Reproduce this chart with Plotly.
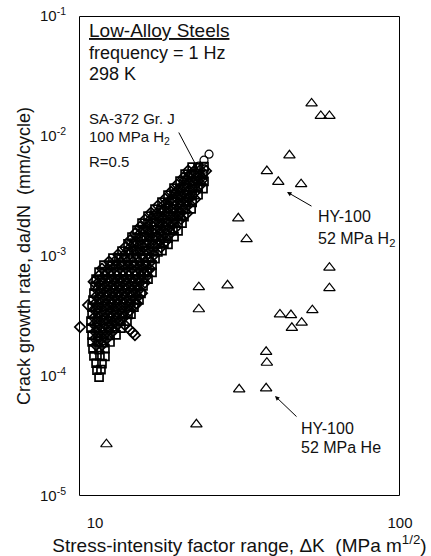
import plotly.graph_objects as go

# ---------------- data ----------------
# SA-372 Gr. J, 100 MPa H2, R=0.5 : squares
sq_dk = [
    20.82, 21.77, 22.77,
    19.74, 20.66, 21.61, 22.60,
    19.00, 19.89, 20.82, 21.77, 22.77,
    18.16, 19.00, 19.89, 20.82, 21.77, 22.60,
    17.35, 18.16, 19.00, 19.89, 20.82, 21.77,
    16.58, 17.35, 18.16, 19.00, 19.89, 20.82,
    15.73, 16.45, 17.22, 18.02, 18.86, 19.74, 20.66,
    14.92, 15.61, 16.33, 17.09, 17.89, 18.72, 19.58,
    14.26, 14.92, 15.61, 16.33, 17.09, 17.89, 18.72, 19.29,
    13.73, 14.37, 15.03, 15.73, 16.45, 17.22, 18.02, 18.72,
    13.22, 13.84, 14.47, 15.14, 15.84, 16.58, 17.35, 18.16,
    12.83, 13.42, 14.04, 14.70, 15.38, 16.08, 16.83, 17.35,
    12.26, 12.83, 13.42, 14.04, 14.70, 15.38, 16.08, 16.58,
    11.45, 11.98, 12.54, 13.12, 13.73, 14.37, 15.03, 15.73,
    10.70, 11.20, 11.72, 12.26, 12.83, 13.42, 14.04, 14.70, 15.38,
    10.31, 10.78, 11.28, 11.81, 12.35, 12.92, 13.52, 14.15, 14.81, 15.38,
    10.08, 10.54, 11.03, 11.54, 12.07, 12.64, 13.22, 13.84, 14.47, 14.92,
    10.00, 10.46, 10.95, 11.45, 11.98, 12.54, 13.12, 13.73, 14.37,
    9.92, 10.38, 10.87, 11.37, 11.90, 12.45, 13.02, 13.62, 14.15,
    9.85, 10.31, 10.78, 11.28, 11.81, 12.35, 12.92, 13.52, 13.94,
    9.78, 10.23, 10.70, 11.20, 11.72, 12.26, 12.83, 13.42,
    9.78, 10.23, 10.70, 11.20, 11.72, 12.26, 12.83, 13.12,
    9.70, 10.15, 10.62, 11.11, 11.63, 12.16, 12.73,
    9.70, 10.15, 10.62, 11.11, 11.63, 12.16,
    9.78, 10.23, 10.70, 11.20, 11.72,
    9.78, 10.23, 10.70, 11.20,
    9.85, 10.31, 10.78,
    9.92, 10.38, 10.78,
    10.08, 10.54,
    10.15, 10.46,
    10.31,
]
sq_rate = [
    5.50e-3, 5.42e-3, 5.55e-3,
    4.81e-3, 4.75e-3, 4.88e-3, 4.79e-3,
    4.20e-3, 4.26e-3, 4.15e-3, 4.22e-3, 4.18e-3,
    3.68e-3, 3.62e-3, 3.72e-3, 3.66e-3, 3.70e-3, 3.64e-3,
    3.21e-3, 3.26e-3, 3.17e-3, 3.23e-3, 3.19e-3, 3.24e-3,
    2.81e-3, 2.77e-3, 2.85e-3, 2.79e-3, 2.83e-3, 2.80e-3,
    2.46e-3, 2.42e-3, 2.50e-3, 2.44e-3, 2.48e-3, 2.45e-3, 2.47e-3,
    2.15e-3, 2.18e-3, 2.12e-3, 2.16e-3, 2.14e-3, 2.17e-3, 2.13e-3,
    1.88e-3, 1.85e-3, 1.91e-3, 1.87e-3, 1.89e-3, 1.86e-3, 1.90e-3, 1.88e-3,
    1.64e-3, 1.66e-3, 1.62e-3, 1.65e-3, 1.63e-3, 1.67e-3, 1.64e-3, 1.62e-3,
    1.44e-3, 1.42e-3, 1.46e-3, 1.43e-3, 1.45e-3, 1.44e-3, 1.41e-3, 1.45e-3,
    1.26e-3, 1.28e-3, 1.24e-3, 1.27e-3, 1.25e-3, 1.26e-3, 1.28e-3, 1.25e-3,
    1.10e-3, 1.08e-3, 1.12e-3, 1.09e-3, 1.11e-3, 1.10e-3, 1.08e-3, 1.11e-3,
    9.6e-4, 9.7e-4, 9.5e-4, 9.65e-4, 9.55e-4, 9.6e-4, 9.7e-4, 9.5e-4,
    8.4e-4, 8.3e-4, 8.5e-4, 8.35e-4, 8.45e-4, 8.4e-4, 8.3e-4, 8.45e-4, 8.4e-4,
    7.35e-4, 7.4e-4, 7.3e-4, 7.38e-4, 7.32e-4, 7.36e-4, 7.4e-4, 7.3e-4, 7.35e-4, 7.3e-4,
    6.42e-4, 6.36e-4, 6.48e-4, 6.4e-4, 6.45e-4, 6.38e-4, 6.44e-4, 6.4e-4, 6.46e-4, 6.4e-4,
    5.62e-4, 5.66e-4, 5.58e-4, 5.63e-4, 5.6e-4, 5.65e-4, 5.61e-4, 5.58e-4, 5.64e-4,
    4.91e-4, 4.87e-4, 4.95e-4, 4.9e-4, 4.93e-4, 4.89e-4, 4.92e-4, 4.9e-4, 4.88e-4,
    4.30e-4, 4.33e-4, 4.27e-4, 4.31e-4, 4.29e-4, 4.32e-4, 4.28e-4, 4.3e-4, 4.31e-4,
    3.75e-4, 3.72e-4, 3.78e-4, 3.74e-4, 3.76e-4, 3.73e-4, 3.77e-4, 3.75e-4,
    3.28e-4, 3.31e-4, 3.25e-4, 3.29e-4, 3.27e-4, 3.3e-4, 3.26e-4, 3.28e-4,
    2.87e-4, 2.84e-4, 2.9e-4, 2.86e-4, 2.88e-4, 2.85e-4, 2.87e-4,
    2.51e-4, 2.53e-4, 2.49e-4, 2.52e-4, 2.5e-4, 2.51e-4,
    2.19e-4, 2.17e-4, 2.21e-4, 2.18e-4, 2.2e-4,
    1.92e-4, 1.94e-4, 1.9e-4, 1.92e-4,
    1.68e-4, 1.66e-4, 1.69e-4,
    1.47e-4, 1.48e-4, 1.46e-4,
    1.28e-4, 1.27e-4,
    1.12e-4, 1.13e-4,
    9.8e-5,
]

# diamonds
dia_dk = [
    20.20, 21.13, 22.10, 23.12,
    19.45, 20.35, 21.29, 22.27,
    18.58, 19.45, 20.35, 21.29, 22.27,
    17.75, 18.58, 19.45, 20.35, 21.29,
    16.96, 17.75, 18.58, 19.45, 20.35, 21.29,
    16.08, 16.83, 17.62, 18.44, 19.29, 20.20,
    15.26, 15.97, 16.71, 17.48, 18.30, 19.14, 20.03,
    14.58, 15.26, 15.97, 16.71, 17.48, 18.30, 19.14,
    14.04, 14.70, 15.38, 16.08, 16.83, 17.62, 18.44,
    13.52, 14.15, 14.81, 15.49, 16.21, 16.96, 17.75,
    13.02, 13.62, 14.26, 14.92, 15.61, 16.33, 17.09,
    12.54, 13.12, 13.73, 14.37, 15.03, 15.73, 16.45,
    11.90, 12.45, 13.02, 13.62, 14.26, 14.92, 15.61,
    11.11, 11.63, 12.16, 12.73, 13.32, 13.94, 14.58, 15.26,
    10.54, 11.03, 11.54, 12.07, 12.64, 13.22, 13.84, 14.47, 15.14,
    10.31, 10.78, 11.28, 11.81, 12.35, 12.92, 13.52, 14.15, 14.81,
    10.23, 10.70, 11.20, 11.72, 12.26, 12.83, 13.42, 14.04, 14.58,
    10.15, 10.62, 11.11, 11.63, 12.16, 12.73, 13.32, 13.94,
    10.08, 10.54, 11.03, 11.54, 12.07, 12.64, 13.22, 13.84,
    10.00, 10.46, 10.95, 11.45, 11.98, 12.54, 13.12, 13.62,
    10.00, 10.46, 10.95, 11.45, 11.98, 12.54, 13.02,
    9.92, 10.38, 10.87, 11.37, 11.90, 12.45,
    9.92, 10.38, 10.87, 11.37, 11.90,
    10.00, 10.46, 10.95, 11.45,
    10.00, 10.46, 10.95,
    10.08, 10.54,
    8.93, 9.49, 9.90, 13.02, 13.52, 12.54, 13.30,
    14.58, 14.26, 13.73, 20.20, 22.40, 14.81,
]
dia_rate = [
    5.15e-3, 5.10e-3, 5.20e-3, 5.12e-3,
    4.49e-3, 4.53e-3, 4.45e-3, 4.50e-3,
    3.94e-3, 3.90e-3, 3.98e-3, 3.92e-3, 3.96e-3,
    3.43e-3, 3.46e-3, 3.40e-3, 3.44e-3, 3.41e-3,
    3.00e-3, 2.97e-3, 3.03e-3, 2.99e-3, 3.01e-3, 2.98e-3,
    2.63e-3, 2.66e-3, 2.60e-3, 2.64e-3, 2.62e-3, 2.65e-3,
    2.30e-3, 2.28e-3, 2.32e-3, 2.29e-3, 2.31e-3, 2.30e-3, 2.27e-3,
    2.01e-3, 2.03e-3, 1.99e-3, 2.02e-3, 2.00e-3, 2.01e-3, 2.03e-3,
    1.75e-3, 1.73e-3, 1.77e-3, 1.74e-3, 1.76e-3, 1.75e-3, 1.73e-3,
    1.54e-3, 1.56e-3, 1.52e-3, 1.55e-3, 1.53e-3, 1.54e-3, 1.56e-3,
    1.35e-3, 1.33e-3, 1.37e-3, 1.34e-3, 1.36e-3, 1.35e-3, 1.33e-3,
    1.18e-3, 1.19e-3, 1.17e-3, 1.18e-3, 1.16e-3, 1.19e-3, 1.18e-3,
    1.03e-3, 1.02e-3, 1.04e-3, 1.03e-3, 1.01e-3, 1.04e-3, 1.02e-3,
    8.99e-4, 9.05e-4, 8.9e-4, 9.0e-4, 8.95e-4, 9.02e-4, 8.92e-4, 9.0e-4,
    7.86e-4, 7.8e-4, 7.9e-4, 7.84e-4, 7.88e-4, 7.82e-4, 7.87e-4, 7.85e-4, 7.8e-4,
    6.87e-4, 6.92e-4, 6.83e-4, 6.89e-4, 6.85e-4, 6.9e-4, 6.86e-4, 6.88e-4, 6.84e-4,
    6.01e-4, 5.97e-4, 6.05e-4, 6.0e-4, 6.03e-4, 5.98e-4, 6.02e-4, 6.0e-4, 5.99e-4,
    5.25e-4, 5.28e-4, 5.22e-4, 5.26e-4, 5.24e-4, 5.27e-4, 5.23e-4, 5.25e-4,
    4.60e-4, 4.57e-4, 4.63e-4, 4.59e-4, 4.61e-4, 4.58e-4, 4.62e-4, 4.6e-4,
    4.01e-4, 4.04e-4, 3.98e-4, 4.02e-4, 4.0e-4, 4.03e-4, 3.99e-4, 4.01e-4,
    3.51e-4, 3.48e-4, 3.54e-4, 3.5e-4, 3.52e-4, 3.49e-4, 3.51e-4,
    3.07e-4, 3.1e-4, 3.04e-4, 3.08e-4, 3.06e-4, 3.09e-4,
    2.69e-4, 2.67e-4, 2.71e-4, 2.68e-4, 2.7e-4,
    2.34e-4, 2.36e-4, 2.32e-4, 2.35e-4,
    2.05e-4, 2.03e-4, 2.06e-4,
    1.80e-4, 1.81e-4,
    2.56e-4, 3.90e-4, 6.1e-4, 2.42e-4, 2.19e-4, 2.65e-4, 2.3e-4,
    7.2e-4, 4.9e-4, 4.0e-4, 3.03e-3, 4.28e-3, 7.5e-4,
]

# circles (upper end of the SA-372 band)
circ_dk = [23.65, 22.77, 21.93, 21.13, 20.20, 19.45, 22.90, 18.30]
circ_rate = [7.06e-3, 6.29e-3, 5.60e-3, 5.09e-3, 4.63e-3, 4.12e-3, 5.30e-3, 3.40e-3]

# HY-100 (triangles)
hy_dk = [51.3, 55.0, 58.7, 43.4, 36.6, 39.9, 47.4, 29.5, 31.4, 58.7, 58.7, 27.2,
         21.9, 21.9, 40.4, 43.9, 51.6, 47.6, 44.2, 36.4, 36.6, 29.7, 36.4, 21.5, 10.9]
hy_rate = [1.87e-2, 1.47e-2, 1.47e-2, 6.9e-3, 5.1e-3, 4.15e-3, 3.97e-3, 2.06e-3,
           1.38e-3, 8.0e-4, 5.4e-4, 5.7e-4, 5.5e-4, 3.6e-4, 3.26e-4, 3.22e-4,
           3.54e-4, 2.78e-4, 2.52e-4, 1.59e-4, 1.29e-4, 7.75e-5, 7.9e-5, 3.96e-5, 2.7e-5]

y_tick_vals = [1e-5, 1e-4, 1e-3, 1e-2, 1e-1]
y_tick_text = ["10<sup>-5</sup>", "10<sup>-4</sup>", "10<sup>-3</sup>",
               "10<sup>-2</sup>", "10<sup>-1</sup>"]
x_tick_vals = [10, 100]
x_tick_text = ["10", "100"]

# ---------------- figure ----------------
FONT = "Liberation Sans, Arial, sans-serif"
INK = "#111111"
W, H = 431, 556
PL, PR, PT, PB = 79, 400, 16, 496          # plot area on screen
L, R, T, B = PL, W - PR, PT, H - PB
X_RANGE = [0.9475, 2.0]
Y_RANGE = [-5.0, -1.0]
X_DEC_PX = (PR - PL) / (X_RANGE[1] - X_RANGE[0])   # pixels per decade
Y_DEC_PX = (PB - PT) / (Y_RANGE[1] - Y_RANGE[0])


def px(x):
    return (x - PL) / (PR - PL)


def py(y):
    return (PB - y) / (PB - PT)


def xoff(logv, pix):
    """x value shifted by a number of screen pixels (log axis)."""
    return 10 ** (logv + pix / X_DEC_PX)


def yoff(logv, pix):
    return 10 ** (logv + pix / Y_DEC_PX)


fig = go.Figure()
fig.add_trace(go.Scatter(x=sq_dk, y=sq_rate, mode="markers", name="squares",
                         marker=dict(symbol="square-open", size=8, color="black",
                                     line=dict(width=1.7, color="black"))))
fig.add_trace(go.Scatter(x=dia_dk, y=dia_rate, mode="markers", name="diamonds",
                         cliponaxis=False,
                         marker=dict(symbol="diamond-open", size=8, color="black",
                                     line=dict(width=1.7, color="black"))))
fig.add_trace(go.Scatter(x=circ_dk, y=circ_rate, mode="markers", name="circles",
                         marker=dict(symbol="circle-open", size=8, color="black",
                                     line=dict(width=1.2, color="black"))))
fig.add_trace(go.Scatter(x=hy_dk, y=hy_rate, mode="markers", name="HY-100",
                         marker=dict(symbol="triangle-up-open", size=10, color="black",
                                     line=dict(width=1.2, color="black"))))

minor_y = [m * 10.0 ** e for e in range(-5, -1) for m in range(2, 10)]
minor_x = [m * 10 for m in range(2, 10)]

# plot frame, drawn as a line trace (half-pixel aligned)
x_lo, x_hi = xoff(X_RANGE[0], 0.5), xoff(X_RANGE[1], -0.5)
y_lo, y_hi = yoff(Y_RANGE[0], 0.5), yoff(Y_RANGE[1], -0.5)
fig.add_trace(go.Scatter(x=[x_lo, x_hi, x_hi, x_lo, x_lo],
                         y=[y_lo, y_lo, y_hi, y_hi, y_lo],
                         mode="lines", name="frame", hoverinfo="skip",
                         cliponaxis=False, line=dict(color="black", width=1)))

# tick marks outside the frame, drawn as line markers
tick_line = dict(color="black", width=1)
fig.add_trace(go.Scatter(
    x=[xoff(X_RANGE[0], -3)] * len(y_tick_vals), y=y_tick_vals,
    mode="markers", hoverinfo="skip", cliponaxis=False, name="yticks",
    marker=dict(symbol="line-ew", size=7, line=tick_line)))
fig.add_trace(go.Scatter(
    x=[xoff(X_RANGE[0], -1.5)] * len(minor_y), y=minor_y,
    mode="markers", hoverinfo="skip", cliponaxis=False, name="yminor",
    marker=dict(symbol="line-ew", size=4, line=tick_line)))
fig.add_trace(go.Scatter(
    x=x_tick_vals, y=[yoff(Y_RANGE[0], -4)] * len(x_tick_vals),
    mode="markers", hoverinfo="skip", cliponaxis=False, name="xticks",
    marker=dict(symbol="line-ns", size=9, line=tick_line)))
fig.add_trace(go.Scatter(
    x=minor_x, y=[yoff(Y_RANGE[0], -2.5)] * len(minor_x),
    mode="markers", hoverinfo="skip", cliponaxis=False, name="xminor",
    marker=dict(symbol="line-ns", size=6, line=tick_line)))

fig.update_layout(
    width=W, height=H,
    margin=dict(l=L, r=R, t=T, b=B, autoexpand=False),
    paper_bgcolor="white", plot_bgcolor="white",
    showlegend=False,
    font=dict(family=FONT, size=15, color=INK),
    xaxis=dict(
        type="log", range=X_RANGE, automargin=False,
        showgrid=False, zeroline=False, showline=False, ticks="",
        tickvals=x_tick_vals, ticktext=x_tick_text,
        tickfont=dict(size=15, color=INK), ticklabelstandoff=16,
        title=dict(text="Stress-intensity factor range, \u0394K\u00a0 (MPa m<sup>1/2</sup>)",
                   font=dict(size=19, color=INK)),
    ),
    yaxis=dict(
        type="log", range=Y_RANGE, automargin=False,
        showgrid=False, zeroline=False, showline=False, ticks="",
        tickvals=y_tick_vals, ticktext=y_tick_text, ticklabeloverflow="allow",
        tickfont=dict(size=15, color=INK), ticklabelstandoff=12,
        title=dict(text="Crack growth rate, da/dN\u00a0 (mm/cycle)",
                   font=dict(size=18, color=INK), standoff=4),
    ),
)

texts = [
    ("<u>Low-Alloy Steels</u>", 87, 30, 19),
    ("frequency = 1 Hz", 87, 53, 18),
    ("298 K", 87, 74, 18),
    ("SA-372 Gr. J", 87, 118, 15),
    ("100 MPa H<sub>2</sub>", 87, 137, 15),
    ("R=0.5", 87, 161, 15),
    ("HY-100", 316, 217, 16),
    ("52 MPa H<sub>2</sub>", 316, 239, 16),
    ("HY-100", 299, 428, 16),
    ("52 MPa He", 299, 447, 16),
]
for txt, x, y, s in texts:
    fig.add_annotation(text=txt, xref="paper", yref="paper", x=px(x), y=py(y),
                       xanchor="left", yanchor="middle", showarrow=False,
                       font=dict(family=FONT, size=s, color=INK))

arrows = [((197, 167), (-19, -36)), ((287, 192), (26, 15)), ((275, 396), (23, 22))]
for (hx, hy), (ax, ay) in arrows:
    fig.add_annotation(text="", xref="paper", yref="paper", x=px(hx), y=py(hy),
                       ax=ax, ay=ay, showarrow=True, arrowhead=2, arrowsize=0.9,
                       arrowwidth=1, arrowcolor="black", standoff=0)

# the page body has a default 8 px margin; remove it so the figure sits at (0, 0)
fig.write_html("out.html", config={"displayModeBar": False},
               post_script="document.body.style.margin='0px';")
